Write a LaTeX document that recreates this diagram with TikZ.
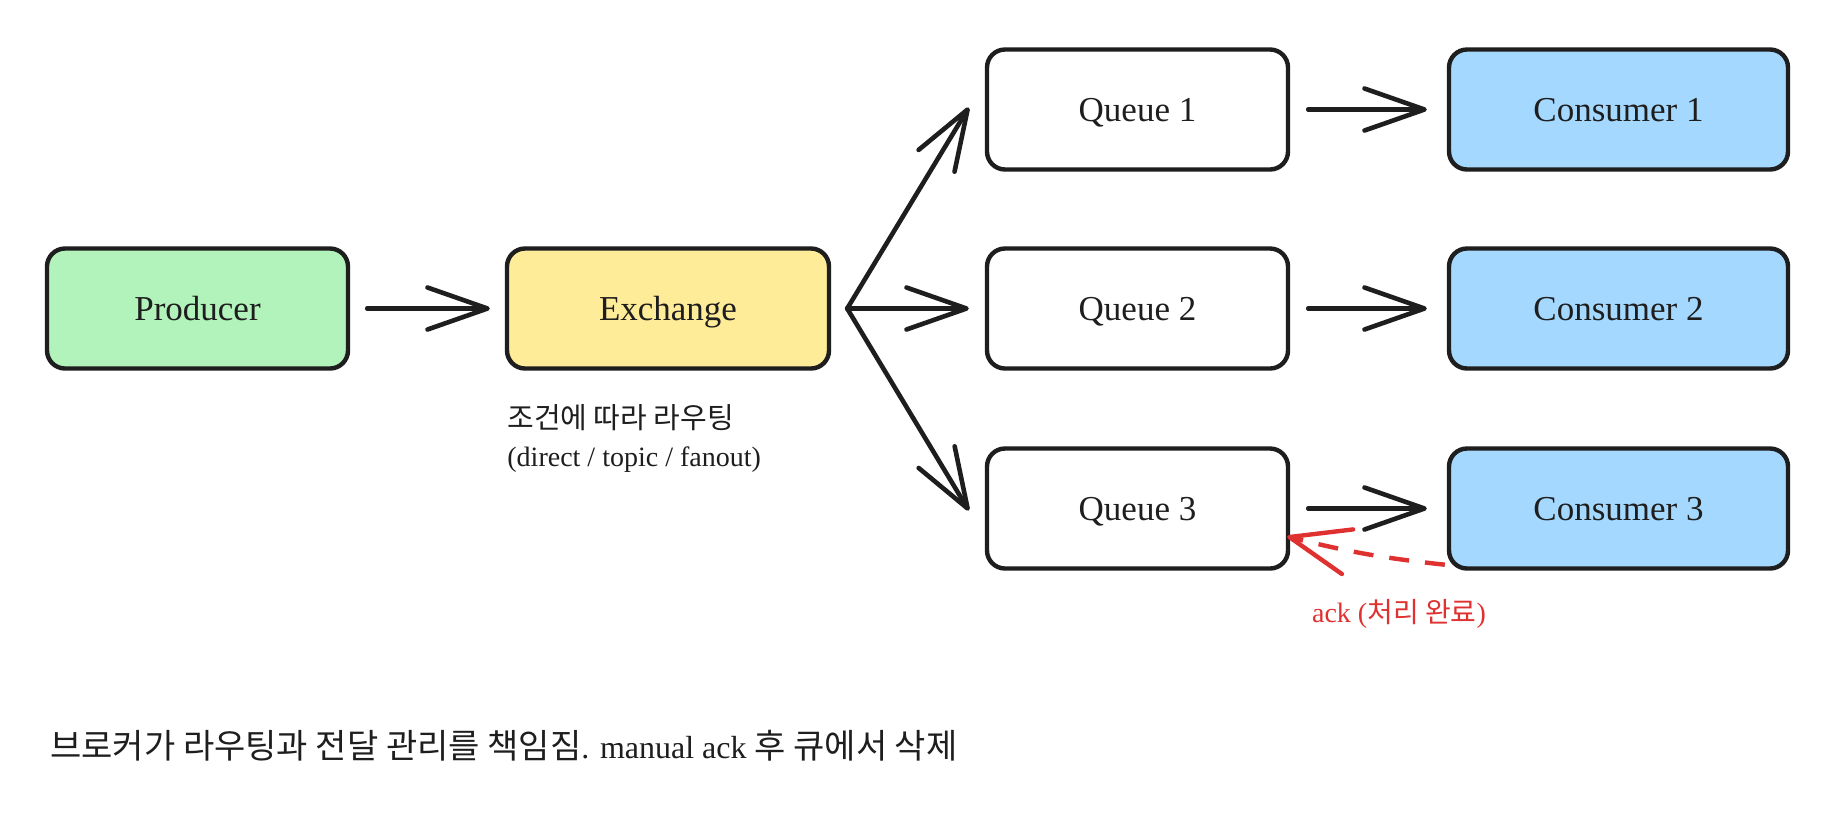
\documentclass[tikz,border=0pt]{standalone}
\usepackage{fontspec}
\setmainfont{Liberation Serif}
\newfontfamily\kr{Noto Sans CJK KR}
\usetikzlibrary{arrows.meta}
\definecolor{ink}{HTML}{1E1E1E}
\definecolor{prodfill}{HTML}{B2F2BB}
\definecolor{exchfill}{HTML}{FFEC99}
\definecolor{consfill}{HTML}{A5D8FF}
\definecolor{ackred}{HTML}{E03131}
\begin{document}
\begin{tikzpicture}[x=0.5pt,y=-0.5pt,
  box/.style={draw=ink, line width=2.2pt, rounded corners=9pt, minimum height=60pt,
    font=\fontsize{17.5}{21}\selectfont, text=ink, inner sep=0pt,
    text height=12pt, text depth=0pt},
  arr/.style={draw=ink, line width=2.3pt, line cap=round,
    -{Straight Barb[length=30pt,width=21pt,line cap=round,line join=round]}},
  ackarr/.style={draw=ackred, line width=2.2pt, dash pattern=on 10pt off 8pt,
    -{Straight Barb[length=30pt,width=23pt,line cap=round,line join=round]}},
  lbl/.style={font=\fontsize{14}{17}\selectfont, text=ink, inner sep=0pt}]
\useasboundingbox (0,0) rectangle (1836,816);
\fill[white] (0,0) rectangle (1836,816);

\node[box, fill=prodfill, minimum width=150.5pt] (prod) at (197.5,308.5) {Producer};
\node[box, fill=exchfill, minimum width=161pt] (exch) at (668,308.5) {Exchange};
\node[box, fill=white, minimum width=150.5pt] (q1) at (1137.5,109.5) {Queue 1};
\node[box, fill=white, minimum width=150.5pt] (q2) at (1137.5,308.5) {Queue 2};
\node[box, fill=white, minimum width=150.5pt] (q3) at (1137.5,508.5) {Queue 3};
\node[box, fill=consfill, minimum width=169.5pt] (c1) at (1618.5,109.5) {Consumer 1};
\node[box, fill=consfill, minimum width=169.5pt] (c2) at (1618.5,308.5) {Consumer 2};
\node[box, fill=consfill, minimum width=169.5pt] (c3) at (1618.5,508.5) {Consumer 3};

\draw[arr, shorten <=8.5pt, shorten >=7.5pt] (prod) -- (exch);
\coordinate (fan) at ([xshift=8pt]exch.east);
\draw[arr] (fan) -- ([xshift=-8pt,yshift=1pt]q1.west);
\draw[arr] (fan) -- ([xshift=-8pt]q2.west);
\draw[arr] (fan) -- ([xshift=-8pt,yshift=-1pt]q3.west);
\draw[arr, shorten <=9pt, shorten >=10pt] (q1) -- (c1);
\draw[arr, shorten <=9pt, shorten >=10pt] (q2) -- (c2);
\draw[arr, shorten <=9pt, shorten >=10pt] (q3) -- (c3);

\draw[ackarr] ([xshift=-1pt,yshift=3pt]c3.south west) to[bend left=4] ([xshift=-1.5pt,yshift=-14pt]q3.east);
\node[lbl, text=ackred] (acklab) at (1399,614) {ack ({\kr 처리 완료})};

\node[lbl, anchor=west] (exlab1) at (507,418) {\kr\fontsize{14.5}{17}\selectfont 조건에 따라 라우팅};
\node[lbl, anchor=west] (exlab2) at (507,460) {(direct / topic / fanout)};

\node[anchor=west, font=\fontsize{16}{19}\selectfont, text=ink, inner sep=0pt] (note) at (50,746)
  {{\kr\fontsize{17}{20}\selectfont 브로커가 라우팅과 전달 관리를 책임짐}. manual ack {\kr\fontsize{17}{20}\selectfont 후 큐에서 삭제}};
\end{tikzpicture}
\end{document}
